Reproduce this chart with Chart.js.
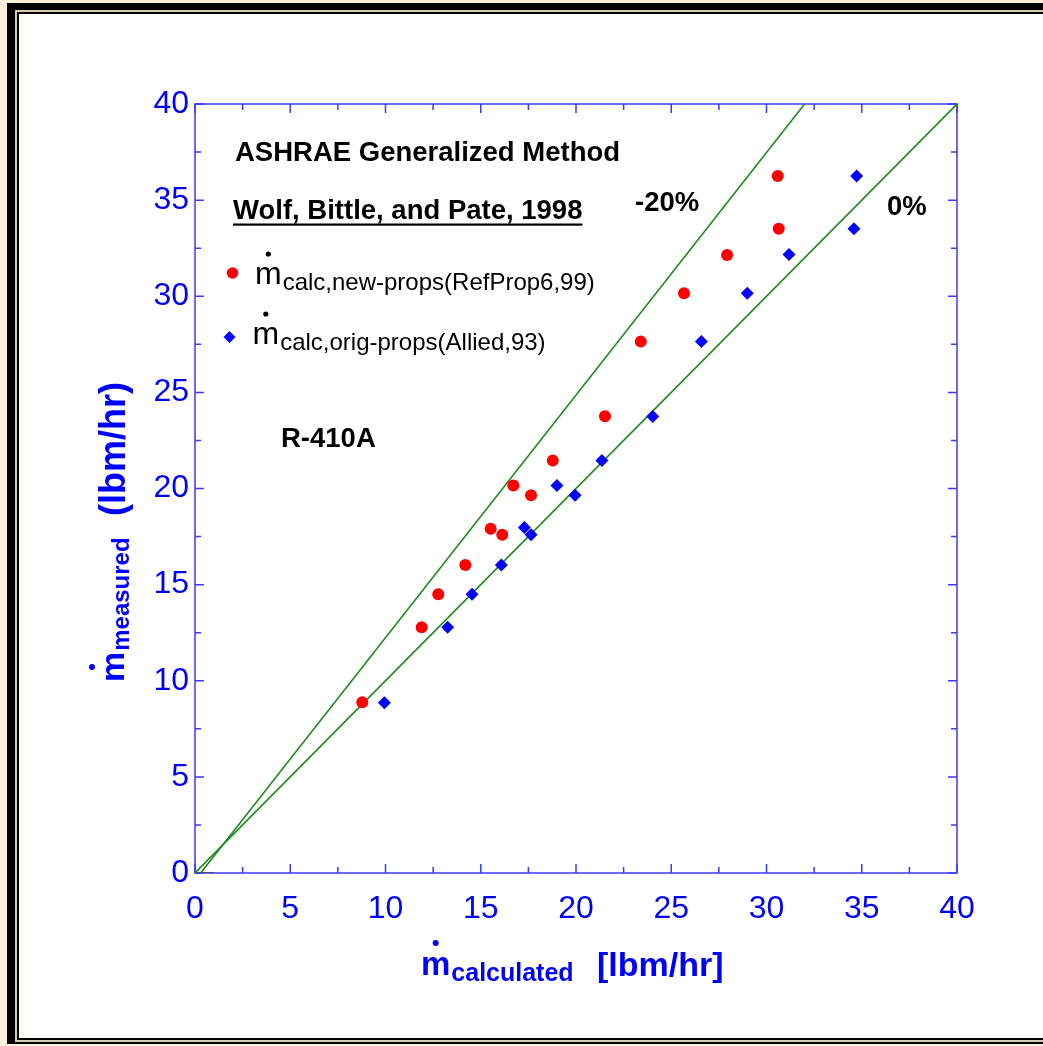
<!DOCTYPE html>
<html><head><meta charset="utf-8">
<script src="https://cdn.jsdelivr.net/npm/chart.js@4.4.1/dist/chart.umd.min.js"></script>
<style>
html,body{margin:0;padding:0;width:1043px;height:1046px;overflow:hidden;background:#fcf0da;}
.b{position:absolute;}
#c{position:absolute;left:0;top:0;}
</style></head><body>
<div class="b" style="left:7px;top:3px;width:1100px;height:1041px;background:#000"></div>
<div class="b" style="left:15px;top:10px;width:1100px;height:1032px;background:#d6c9ad"></div>
<div class="b" style="left:17px;top:12px;width:1100px;height:1028px;background:#000"></div>
<div class="b" style="left:19px;top:14px;width:1100px;height:1024px;background:#fff"></div>
<canvas id="c" width="1043" height="1046"></canvas>
<script>
// ---- data ----
const axisMin = 0;
const axisMax = 40;
const majorStep = 5;
const minorStep = 2.5;

const newPropsCalc     = [8.78, 11.90, 12.77, 14.19, 15.52, 16.13, 16.71, 17.64, 18.78, 21.52, 23.40, 25.67, 27.93, 30.64, 30.59];
const newPropsMeasured = [8.88, 12.78, 14.50, 16.02, 17.91, 17.60, 20.15, 19.65, 21.45, 23.76, 27.64, 30.16, 32.15, 33.51, 36.26];

const origPropsCalc     = [9.94, 13.26, 14.54, 16.08, 17.29, 17.64, 19.00, 19.95, 21.36, 24.03, 26.58, 28.99, 31.18, 34.59, 34.73];
const origPropsMeasured = [8.86, 12.78, 14.50, 16.02, 17.97, 17.60, 20.15, 19.65, 21.45, 23.74, 27.64, 30.16, 32.17, 33.51, 36.26];

const zeroLineCalc = [0, 40];
const zeroLineMeasured = [0, 40];
const minus20LineCalc = [0.3, 32];
const minus20LineMeasured = [0, 40];
const baseSegCalc = [0, 1];
const baseSegMeasured = [0, 0];

const titleLines = ["ASHRAE Generalized Method", "Wolf, Bittle, and Pate, 1998"];
const lineLabels = ["-20%", "0%"];
const fluidLabel = "R-410A";
const legendSubs = ["calc,new-props(RefProp6,99)", "calc,orig-props(Allied,93)"];
const xTitleParts = ["m", "calculated", "[lbm/hr]"];
const yTitleParts = ["m", "measured", "(lbm/hr)"];

// ---- helpers ----
const FF = '"Liberation Sans", Arial, Helvetica, sans-serif';
const AXIS_BLUE = '#3a3aff';
const TEXT_BLUE = '#0000ff';
const GREEN = '#1f8a1f';
const RED = '#ff0000';
const BLUE = '#0000ff';

function toPts(xs, ys) { return xs.map((x, i) => ({x: x, y: ys[i]})); }

const decorPlugin = {
  id: 'decor',
  beforeDatasetsDraw(chart) {
    const ctx = chart.ctx, a = chart.chartArea;
    const xs = chart.scales.x, ys = chart.scales.y;
    ctx.save();
    ctx.strokeStyle = AXIS_BLUE;
    ctx.lineWidth = 1.5;
    ctx.strokeRect(a.left, a.top, a.right - a.left, a.bottom - a.top);
    ctx.beginPath();
    for (let v = axisMin; v <= axisMax + 1e-9; v += minorStep) {
      const major = Math.abs(v / majorStep - Math.round(v / majorStep)) < 1e-6;
      const len = major ? 9 : 6;
      const px = xs.getPixelForValue(v), py = ys.getPixelForValue(v);
      ctx.moveTo(px, a.bottom); ctx.lineTo(px, a.bottom - len);
      ctx.moveTo(px, a.top); ctx.lineTo(px, a.top + len);
      ctx.moveTo(a.left, py); ctx.lineTo(a.left + len, py);
      ctx.moveTo(a.right, py); ctx.lineTo(a.right - len, py);
    }
    ctx.stroke();
    ctx.restore();
  },
  afterDraw(chart) {
    const ctx = chart.ctx;
    ctx.save();
    ctx.fillStyle = '#000';
    ctx.textBaseline = 'alphabetic';
    ctx.textAlign = 'left';
    // titles
    ctx.font = 'bold 27.5px ' + FF;
    ctx.fillText(titleLines[0], 235, 161);
    ctx.fillText(titleLines[1], 233, 219);
    const w1 = ctx.measureText(titleLines[1]).width;
    ctx.fillRect(233, 223.5, w1, 2.2);
    ctx.fillText(lineLabels[0], 635, 211);
    ctx.fillText(lineLabels[1], 887, 215);
    ctx.fillText(fluidLabel, 281, 447);

    // legend
    const ds = chart.data.datasets;
    ctx.fillStyle = ds[0].backgroundColor;
    ctx.beginPath(); ctx.arc(232.5, 273, 5.8, 0, Math.PI * 2); ctx.fill();
    ctx.fillStyle = ds[1].backgroundColor;
    ctx.beginPath();
    ctx.moveTo(229.5, 331); ctx.lineTo(235.5, 337); ctx.lineTo(229.5, 343); ctx.lineTo(223.5, 337); ctx.closePath(); ctx.fill();

    ctx.fillStyle = '#000';
    const legRows = [{mx: 255, base: 284, sub: legendSubs[0]}, {mx: 252.5, base: 344, sub: legendSubs[1]}];
    for (const r of legRows) {
      ctx.font = '32px ' + FF;
      ctx.fillText('m', r.mx, r.base);
      const mw = ctx.measureText('m').width;
      ctx.beginPath(); ctx.arc(r.mx + mw / 2, r.base - 30, 2.6, 0, Math.PI * 2); ctx.fill();
      ctx.font = '24px ' + FF;
      ctx.fillText(r.sub, r.mx + mw + 1, r.base + 6);
    }

    // x axis title
    ctx.fillStyle = TEXT_BLUE;
    ctx.font = 'bold 33px ' + FF;
    ctx.fillText(xTitleParts[0], 421, 975);
    let mw = ctx.measureText('m').width;
    ctx.beginPath(); ctx.arc(421 + mw / 2, 943, 3, 0, Math.PI * 2); ctx.fill();
    ctx.font = 'bold 25px ' + FF;
    ctx.fillText(xTitleParts[1], 421 + mw + 1, 981);
    ctx.font = 'bold 34px ' + FF;
    ctx.fillText(xTitleParts[2], 597, 976);

    // y axis title (rotated)
    ctx.translate(124, 682);
    ctx.rotate(-Math.PI / 2);
    ctx.font = 'bold 34px ' + FF;
    ctx.fillText(yTitleParts[0], 0, 0);
    mw = ctx.measureText('m').width;
    ctx.beginPath(); ctx.arc(mw / 2, -32, 3, 0, Math.PI * 2); ctx.fill();
    ctx.font = 'bold 24px ' + FF;
    ctx.fillText(yTitleParts[1], mw + 1, 5);
    ctx.font = 'bold 36px ' + FF;
    ctx.fillText(yTitleParts[2], 166, 1);
    ctx.restore();
  }
};

const tickFont = {family: FF, size: 32};

new Chart(document.getElementById('c'), {
  type: 'scatter',
  data: {
    datasets: [
      {label: 'new-props', data: toPts(newPropsCalc, newPropsMeasured), pointStyle: 'circle', pointRadius: 6, backgroundColor: RED, borderWidth: 0, showLine: false},
      {label: 'orig-props', data: toPts(origPropsCalc, origPropsMeasured), pointStyle: 'rectRot', pointRadius: 6.5, backgroundColor: BLUE, borderWidth: 0, showLine: false},
      {label: '0%', data: toPts(zeroLineCalc, zeroLineMeasured), showLine: true, pointRadius: 0, borderColor: GREEN, borderWidth: 1.6, fill: false},
      {label: '-20%', data: toPts(minus20LineCalc, minus20LineMeasured), showLine: true, pointRadius: 0, borderColor: GREEN, borderWidth: 1.6, fill: false},
      {label: 'base', data: toPts(baseSegCalc, baseSegMeasured), showLine: true, pointRadius: 0, borderColor: '#444', borderWidth: 1.5, fill: false}
    ]
  },
  options: {
    responsive: false,
    animation: false,
    devicePixelRatio: 1,
    layout: {padding: {left: 125, top: 104, right: 86, bottom: 113}},
    plugins: {legend: {display: false}, tooltip: {enabled: false}},
    scales: {
      x: {
        type: 'linear', min: axisMin, max: axisMax,
        grid: {display: false, drawTicks: false},
        border: {display: false},
        ticks: {stepSize: majorStep, autoSkip: false, color: TEXT_BLUE, font: tickFont, padding: 17, maxRotation: 0},
        afterFit: (s) => { s.height = 60; }
      },
      y: {
        type: 'linear', min: axisMin, max: axisMax,
        grid: {display: false, drawTicks: false},
        border: {display: false},
        ticks: {stepSize: majorStep, autoSkip: false, color: TEXT_BLUE, font: tickFont, padding: 6},
        afterFit: (s) => { s.width = 70; }
      }
    }
  },
  plugins: [decorPlugin]
});
</script>
</body></html>
